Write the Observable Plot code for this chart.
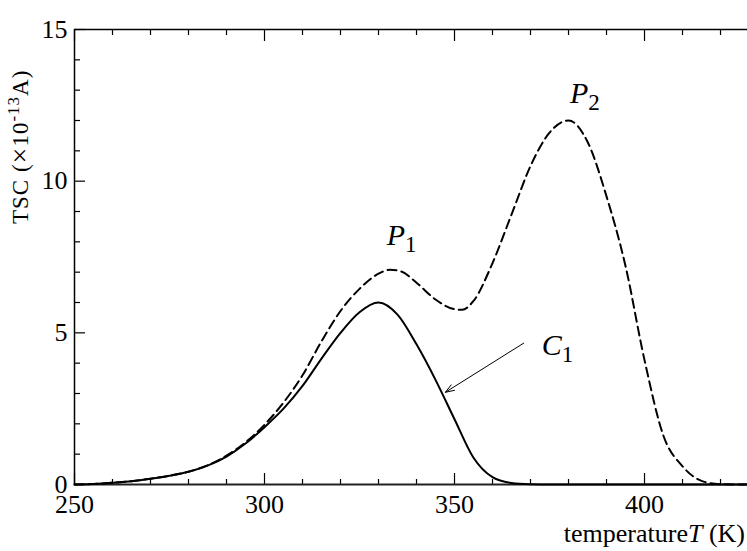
<!DOCTYPE html>
<html><head><meta charset="utf-8">
<script src="https://cdn.jsdelivr.net/npm/d3@7"></script>
<script src="https://cdn.jsdelivr.net/npm/@observablehq/plot@0.6"></script>
<style>
body{margin:0;background:#fff}
svg, svg text{font-family:"Liberation Serif","Times New Roman",serif !important}
</style>
</head><body><div id="chart"></div>
<script>
// C1 (solid) curve
const solidT = [250, 255, 260, 265, 270, 275, 280, 285, 290, 295, 300, 305, 310, 315, 320, 325, 330, 335, 340, 345, 350, 355, 360, 365, 370, 375, 427];
const solidV = [0, 0.02, 0.06, 0.11, 0.19, 0.29, 0.42, 0.62, 0.92, 1.35, 1.89, 2.5, 3.25, 4.15, 5.0, 5.68, 6.0, 5.6, 4.62, 3.45, 2.15, 0.88, 0.24, 0.05, 0.01, 0, 0];
// total TSC (dashed) curve
const dashT = [250, 255, 260, 265, 270, 275, 280, 285, 290, 295, 300, 305, 310, 315, 320, 325, 330, 333, 336, 340, 345, 350, 352, 355, 360, 365, 370, 375, 380, 385, 390, 395, 400, 405, 410, 415, 420, 425, 427];
const dashV = [0, 0.02, 0.06, 0.11, 0.19, 0.29, 0.42, 0.63, 0.95, 1.39, 1.97, 2.7, 3.6, 4.72, 5.72, 6.45, 6.95, 7.08, 7.02, 6.65, 6.1, 5.78, 5.76, 6.05, 7.3, 8.9, 10.5, 11.6, 12.0, 11.3, 9.5, 7.2, 4.1, 1.6, 0.6, 0.12, 0.01, 0, 0];
// ticks
const xMajor = [250, 300, 350, 400];
const xMinor = [260, 270, 280, 290, 310, 320, 330, 340, 360, 370, 380, 390, 410, 420];
const yMajor = [0, 5, 10, 15];
const yMinor = [1, 2, 3, 4, 6, 7, 8, 9, 11, 12, 13, 14];
// annotations
const labelNames = ["P", "P", "C"];
const labelSubs = ["1", "2", "1"];
const labelT = [332.3, 380.5, 373.1];
const labelV = [7.88, 12.57, 4.25];
const arrowFrom = [368.2, 4.66];
const arrowTo = [347.6, 3.04];

const solid = solidT.map((t, i) => ({t, v: solidV[i]}));
const dashed = dashT.map((t, i) => ({t, v: dashV[i]}));

const chart = Plot.plot({
  width: 747, height: 551,
  marginLeft: 74, marginRight: 0, marginTop: 29, marginBottom: 67,
  x: {domain: [250, 427.1], label: null},
  y: {domain: [0, 15], label: null},
  style: {fontFamily: "Liberation Serif", fontSize: "26px", color: "#000", background: "#fff", overflow: "visible"},
  marks: [
    Plot.axisX(xMajor, {anchor: "bottom", tickSize: -11, text: null, label: null, strokeWidth: 1.2}),
    Plot.axisX(xMinor, {anchor: "bottom", tickSize: -5, text: null, label: null, strokeWidth: 1.2}),
    Plot.axisX(xMajor, {anchor: "top", tickSize: -11, text: null, label: null, strokeWidth: 1.2}),
    Plot.axisX(xMinor, {anchor: "top", tickSize: -5, text: null, label: null, strokeWidth: 1.2}),
    Plot.axisY(yMajor, {anchor: "left", tickSize: -11, text: null, label: null, strokeWidth: 1.2}),
    Plot.axisY(yMinor, {anchor: "left", tickSize: -6, text: null, label: null, strokeWidth: 1.2}),
    Plot.text(xMajor, {x: d => d, y: 0, text: d => String(d), dy: 20, lineAnchor: "middle", textAnchor: "middle", fontSize: 26, fill: "#000"}),
    Plot.text(yMajor, {x: 250, y: d => d, text: d => String(d), dx: -7, lineAnchor: "middle", textAnchor: "end", fontSize: 26, fill: "#000"}),
    Plot.ruleY([0], {stroke: "#222", strokeWidth: 2}),
    Plot.ruleY([15], {stroke: "#000", strokeWidth: 1.5}),
    Plot.ruleX([250], {stroke: "#000", strokeWidth: 1.5}),
    Plot.line(dashed, {x: "t", y: "v", curve: "monotone-x", stroke: "#000", strokeWidth: 2, strokeDasharray: "9,5"}),
    Plot.line(solid, {x: "t", y: "v", curve: "monotone-x", stroke: "#000", strokeWidth: 2}),
    Plot.arrow([{x1: arrowFrom[0], y1: arrowFrom[1], x2: arrowTo[0], y2: arrowTo[1]}], {x1: "x1", y1: "y1", x2: "x2", y2: "y2", stroke: "#000", strokeWidth: 1, headLength: 14, headAngle: 40})
  ]
});

const svg = d3.select(chart);
const sx = chart.scale("x"), sy = chart.scale("y");
labelNames.forEach((n, i) => {
  const t = svg.append("text")
    .attr("x", sx.apply(labelT[i])).attr("y", sy.apply(labelV[i]))
    .attr("text-anchor", "start")
    .attr("font-size", 30).attr("fill", "#000");
  t.append("tspan").attr("font-style", "italic").text(n);
  t.append("tspan").attr("dy", 7).attr("font-size", 23).text(labelSubs[i]);
});
// x-axis title
const xl = svg.append("text").attr("x", 745).attr("y", 542).attr("text-anchor", "end").attr("font-size", 26).attr("fill", "#000");
xl.append("tspan").text("temperature");
xl.append("tspan").attr("font-style", "italic").text("T");
xl.append("tspan").text(" (K)");
// y-axis title
const yl = svg.append("text").attr("transform", "translate(28,224) rotate(-90)").attr("text-anchor", "start").attr("font-size", 23).attr("letter-spacing", 1).attr("fill", "#000");
yl.append("tspan").text("TSC (");
yl.append("tspan").attr("font-size", 28).attr("dy", 1).text("×");
yl.append("tspan").attr("dy", -1).text("10");
yl.append("tspan").attr("dy", -9).attr("font-size", 17).text("-13");
yl.append("tspan").attr("dy", 9).text("A)");

document.getElementById("chart").appendChild(chart);
</script>
</body></html>
